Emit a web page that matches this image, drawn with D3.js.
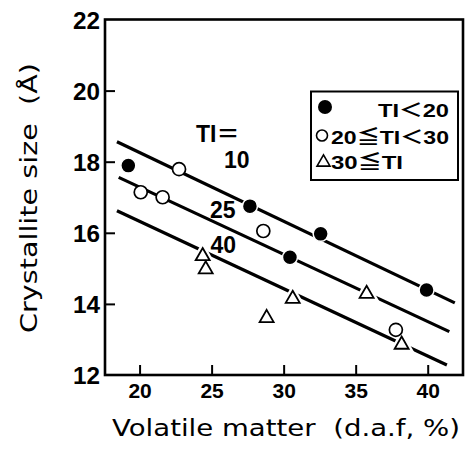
<!DOCTYPE html>
<html><head><meta charset="utf-8">
<script src="https://cdn.jsdelivr.net/npm/d3@7"></script>
<style>body{margin:0;background:#fff}svg{display:block}</style>
</head><body>
<svg id="c" width="468" height="454"></svg>
<script>
// ---- data ----
const xTicks = [20, 25, 30, 35, 40];
const yTicks = [12, 14, 16, 18, 20, 22];
const tiLow = [[19.22, 17.89], [27.66, 16.75], [32.57, 15.97], [30.44, 15.31], [39.92, 14.39]];
const tiMid = [[22.74, 17.79], [20.08, 17.14], [21.6, 17.0], [28.59, 16.05], [37.79, 13.27]];
const tiHigh = [[24.38, 15.40], [24.59, 15.03], [30.63, 14.20], [28.82, 13.66], [35.76, 14.34], [38.19, 12.91]];
const fitLines = [
  {label: "10", pts: [[18.43, 18.56], [41.88, 14.03]]},
  {label: "25", pts: [[18.55, 17.56], [41.5, 13.22]]},
  {label: "40", pts: [[18.43, 16.62], [41.33, 12.28]]}
];
const legendLabels = ["TI\uFF1C20", "20\u2266TI\uFF1C30", "30\u2266TI"];

// ---- layout ----
const svg = d3.select("#c");
const L = 105, R = 463, T = 19.5, B = 375;
const x = d3.scaleLinear().domain([17.6, 42.45]).range([L, R]);
const y = d3.scaleLinear().domain([12, 22]).range([B, T]);
const boldFont = "'Liberation Sans', Arial, sans-serif";
const mixFont = "'Liberation Sans', 'Noto Sans CJK JP', sans-serif";
const titleFont = "'DejaVu Sans', 'Noto Sans CJK JP', sans-serif";

// frame
svg.append("rect").attr("x", L).attr("y", T).attr("width", R - L).attr("height", B - T)
  .attr("fill", "none").attr("stroke", "#000").attr("stroke-width", 2.6);

// axes
const yAx = svg.append("g").attr("transform", `translate(${L},0)`)
  .call(d3.axisLeft(y).tickValues(yTicks).tickSize(-10).tickPadding(16).tickFormat(d3.format("d")));
yAx.select(".domain").remove();
yAx.selectAll(".tick line").attr("stroke-width", 2).filter(d => d === 12 || d === 22).remove();
yAx.selectAll("text").attr("font-family", boldFont).attr("font-weight", "bold").attr("font-size", 24)
  .attr("x", -5).attr("dy", "0.36em").attr("textLength", 27).attr("lengthAdjust", "spacingAndGlyphs");

const xAx = svg.append("g").attr("transform", `translate(0,${B})`)
  .call(d3.axisBottom(x).tickValues(xTicks).tickSize(-10).tickPadding(0).tickFormat(d3.format("d")));
xAx.select(".domain").remove();
xAx.selectAll(".tick line").attr("stroke-width", 2);
xAx.selectAll("text").attr("font-family", boldFont).attr("font-weight", "bold").attr("font-size", 21)
  .attr("y", 23).attr("dy", 0);

// fitted lines
const line = d3.line().x(d => x(d[0])).y(d => y(d[1]));
svg.append("g").selectAll("path").data(fitLines).join("path")
  .attr("d", d => line(d.pts)).attr("fill", "none").attr("stroke", "#000").attr("stroke-width", 3.2);

// line labels
const lab = svg.append("g").attr("font-family", boldFont).attr("font-weight", "bold").attr("font-size", 23);
lab.append("text").attr("x", 196).attr("y", 141.5).text("TI\uFF1D").attr("font-family", mixFont);
lab.append("text").attr("x", 224).attr("y", 168).text(fitLines[0].label);
lab.append("text").attr("x", 210).attr("y", 218).text(fitLines[1].label);
lab.append("text").attr("x", 210.5).attr("y", 253).text(fitLines[2].label);

// markers
const triPath = (s) => { const h = s * 0.87; return `M0,${-h/2}L${s/2},${h/2}L${-s/2},${h/2}Z`; };
const m = svg.append("g");
m.selectAll(".hi").data(tiHigh).join("path").attr("class", "hi")
  .attr("transform", d => `translate(${x(d[0])},${y(d[1])})`).attr("d", triPath(15))
  .attr("fill", "#fff").attr("stroke", "#fff").attr("stroke-width", 6);
m.selectAll(".hi2").data(tiHigh).join("path").attr("class", "hi2")
  .attr("transform", d => `translate(${x(d[0])},${y(d[1])})`).attr("d", triPath(14))
  .attr("fill", "#fff").attr("stroke", "#000").attr("stroke-width", 1.8).attr("stroke-linejoin", "miter");
m.selectAll(".mid").data(tiMid).join("circle").attr("class", "mid")
  .attr("cx", d => x(d[0])).attr("cy", d => y(d[1])).attr("r", 6.5)
  .attr("fill", "#fff").attr("stroke", "#000").attr("stroke-width", 1.7);
m.selectAll(".low").data(tiLow).join("circle").attr("class", "low")
  .attr("cx", d => x(d[0])).attr("cy", d => y(d[1])).attr("r", 7.5)
  .attr("fill", "#000").attr("stroke", "#fff").attr("stroke-width", 1.5);

// legend
const lg = svg.append("g");
lg.append("rect").attr("x", 311).attr("y", 91.5).attr("width", 147).attr("height", 88.5)
  .attr("fill", "#fff").attr("stroke", "#000").attr("stroke-width", 2);
lg.append("circle").attr("cx", 325).attr("cy", 107).attr("r", 7).attr("fill", "#000");
lg.append("circle").attr("cx", 322).attr("cy", 135.5).attr("r", 5.5).attr("fill", "#fff").attr("stroke", "#000").attr("stroke-width", 1.6);
lg.append("path").attr("transform", "translate(323.5,160.5)").attr("d", triPath(13))
  .attr("fill", "#fff").attr("stroke", "#000").attr("stroke-width", 1.6);
const lt = lg.append("g").attr("font-family", mixFont).attr("font-weight", "bold").attr("font-size", 19);
lt.append("text").attr("x", 449).attr("y", 117).attr("text-anchor", "end")
  .attr("textLength", 71).attr("lengthAdjust", "spacingAndGlyphs").text(legendLabels[0]);
lt.append("text").attr("x", 331).attr("y", 143.5).attr("textLength", 118).attr("lengthAdjust", "spacingAndGlyphs").text(legendLabels[1]);
lt.append("text").attr("x", 331).attr("y", 168.5).attr("textLength", 72).attr("lengthAdjust", "spacingAndGlyphs").text(legendLabels[2]);

// axis titles
svg.append("text").attr("x", 112).attr("y", 436).attr("font-family", titleFont).attr("font-size", 23)
  .attr("textLength", 348).attr("lengthAdjust", "spacingAndGlyphs")
  .text("Volatile matter\u00A0 (d.a.f, %)");
svg.append("text").attr("transform", "translate(37,333) rotate(-90)").attr("font-family", titleFont)
  .attr("font-size", 23).attr("textLength", 270).attr("lengthAdjust", "spacingAndGlyphs")
  .text("Crystallite size\u00A0 (Å)");
</script>
</body></html>
